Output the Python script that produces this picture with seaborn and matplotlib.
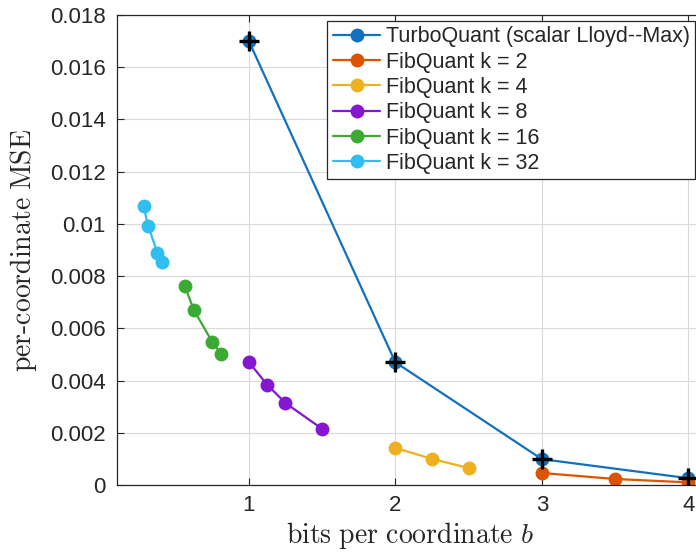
import matplotlib
matplotlib.use("Agg")
import matplotlib.pyplot as plt
import seaborn as sns
import pandas as pd

sns.set_theme(style="white")
plt.rcParams['font.family'] = ['Liberation Sans', 'DejaVu Sans']
plt.rcParams['mathtext.fontset'] = 'cm'

# Data
turbo_b = [1, 2, 3, 4]
turbo_mse = [0.0170, 0.00470, 0.00099, 0.00026]

k2_b = [3, 3.5, 4]
k2_mse = [0.00046, 0.00023, 0.00010]

k4_b = [2, 2.25, 2.5]
k4_mse = [0.00142, 0.00100, 0.00065]

k8_b = [1, 1.125, 1.25, 1.5]
k8_mse = [0.00471, 0.00384, 0.00314, 0.00215]

k16_b = [0.5625, 0.625, 0.75, 0.8125]
k16_mse = [0.00762, 0.00670, 0.00548, 0.00502]

k32_b = [0.28125, 0.3125, 0.375, 0.40625]
k32_mse = [0.01068, 0.00993, 0.00890, 0.00853]

labels = ["TurboQuant (scalar Lloyd--Max)", "FibQuant k = 2", "FibQuant k = 4",
          "FibQuant k = 8", "FibQuant k = 16", "FibQuant k = 32"]
colors = ["#1171BE", "#DD5400", "#EDB120", "#8516D1", "#3BAA32", "#2FBEEF"]

series = [(turbo_b, turbo_mse), (k2_b, k2_mse), (k4_b, k4_mse),
          (k8_b, k8_mse), (k16_b, k16_mse), (k32_b, k32_mse)]

fig = plt.figure(figsize=(6.96, 5.52), dpi=100)
ax = fig.add_axes([117/696, 67/552, 586/696, 470/552])

for (xs, ys), lab, col in zip(series, labels, colors):
    df = pd.DataFrame({"b": xs, "mse": ys})
    sns.lineplot(data=df, x="b", y="mse", ax=ax, color=col, marker="o",
                 markersize=10, markeredgewidth=0, linewidth=1.6, label=lab,
                 sort=False)

tq = pd.DataFrame({"b": turbo_b, "mse": turbo_mse})
sns.scatterplot(data=tq, x="b", y="mse", ax=ax, marker="+", s=200, color="black",
                linewidth=2.4, zorder=5, legend=False)

ax.set_xlim(0.1, 4.1)
ax.set_ylim(0, 0.018)
ax.set_xticks([1, 2, 3, 4])
ax.set_xticklabels(["1", "2", "3", "4"])
yt = [0, 0.002, 0.004, 0.006, 0.008, 0.01, 0.012, 0.014, 0.016, 0.018]
ax.set_yticks(yt)
ax.set_yticklabels(["0", "0.002", "0.004", "0.006", "0.008", "0.01", "0.012",
                    "0.014", "0.016", "0.018"])
ax.grid(True, color="#DADADA", linewidth=0.8)
ax.set_axisbelow(True)
for s in ax.spines.values():
    s.set_color("#262626")
    s.set_linewidth(0.9)
ax.tick_params(direction="in", length=5, width=0.8, colors="#262626",
               labelsize=16, labelcolor="#262626", pad=8,
               top=True, right=True, bottom=True, left=True)
ax.tick_params(axis="x", pad=7)

ax.set_xlabel(r"$\mathrm{bits\ per\ coordinate}\ b$", fontsize=20, color="#262626", labelpad=3)
ax.set_ylabel(r"$\mathrm{per\text{-}coordinate\ MSE}$", fontsize=20, color="#262626", labelpad=8)

leg = ax.legend(loc="upper right", bbox_to_anchor=(695/696, 1 - 21/552),
                bbox_transform=fig.transFigure, borderaxespad=0, fontsize=15.5,
                frameon=True, fancybox=False, edgecolor="#262626", framealpha=1,
                handlelength=2.2, handletextpad=0.25, labelspacing=0.2,
                borderpad=0.25)
leg.get_frame().set_linewidth(0.9)

fig.savefig("out.png", dpi=100)
